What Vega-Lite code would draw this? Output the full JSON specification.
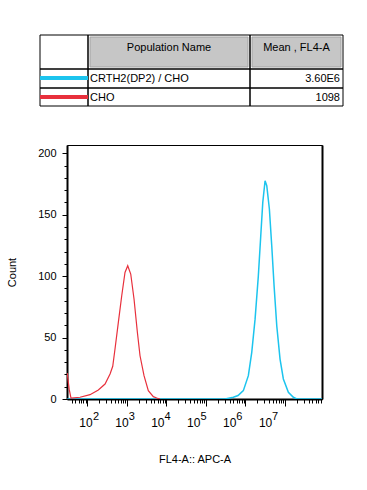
{
  "$schema": "https://vega.github.io/schema/vega-lite/v6.json",
  "padding": {"left": 6, "top": 34, "right": 0, "bottom": 0},
  "background": "white",
  "config": {"font": "Liberation Sans", "view": {"stroke": null}},
  "spacing": 39,
  "center": true,
  "bounds": "flush",
  "vconcat": [
    {
      "width": 309,
      "height": 71,
      "view": {"stroke": null},
      "data": {
        "values": [
          {"r0": 0, "r1": 1, "c0": 0, "c1": 1, "part": "blank"},
          {"r0": 0, "r1": 1, "c0": 1, "c1": 2, "mid": 1.5, "part": "header", "label": "Population Name"},
          {"r0": 0, "r1": 1, "c0": 2, "c1": 3, "mid": 2.5, "part": "header", "label": "Mean , FL4-A"},
          {"r0": 1, "r1": 2, "c0": 0, "c1": 1, "part": "swatch", "series": "CRTH2(DP2) / CHO"},
          {"r0": 1, "r1": 2, "c0": 1, "c1": 2, "part": "name", "label": "CRTH2(DP2) / CHO"},
          {"r0": 1, "r1": 2, "c0": 2, "c1": 3, "part": "value", "label": "3.60E6"},
          {"r0": 2, "r1": 3, "c0": 0, "c1": 1, "part": "swatch", "series": "CHO"},
          {"r0": 2, "r1": 3, "c0": 1, "c1": 2, "part": "name", "label": "CHO"},
          {"r0": 2, "r1": 3, "c0": 2, "c1": 3, "part": "value", "label": "1098"}
        ]
      },
      "encoding": {
        "x": {"field": "c0", "type": "quantitative", "scale": {"domain": [0, 1, 2, 3], "range": [0, 48, 210, 303]}, "axis": null},
        "y": {"field": "r0", "type": "quantitative", "scale": {"domain": [0, 1, 2, 3], "range": [0, 34, 53, 71]}, "axis": null}
      },
      "layer": [
        {
          "transform": [{"filter": "datum.part == 'header'"}],
          "mark": {"type": "rect", "fill": "#c6c6c6", "stroke": "#a2a2a2", "strokeWidth": 1, "xOffset": 2, "x2Offset": -2, "yOffset": 2, "y2Offset": -2},
          "encoding": {"x2": {"field": "c1"}, "y2": {"field": "r1"}}
        },
        {
          "mark": {"type": "rect", "filled": false, "stroke": "black", "strokeWidth": 1},
          "encoding": {"x2": {"field": "c1"}, "y2": {"field": "r1"}}
        },
        {
          "transform": [{"filter": "datum.part == 'swatch'"}],
          "mark": {"type": "rule", "strokeWidth": 4, "yOffset": 9},
          "encoding": {
            "x2": {"field": "c1"},
            "color": {"field": "series", "type": "nominal", "scale": {"domain": ["CRTH2(DP2) / CHO", "CHO"], "range": ["#1CC4EE", "#E8303C"]}, "legend": null}
          }
        },
        {
          "transform": [{"filter": "datum.part == 'header'"}],
          "mark": {"type": "text", "align": "center", "baseline": "middle", "dy": 12.5, "fontSize": 11, "color": "black"},
          "encoding": {"x": {"field": "mid", "type": "quantitative"}, "text": {"field": "label"}}
        },
        {
          "transform": [{"filter": "datum.part == 'name'"}],
          "mark": {"type": "text", "align": "left", "baseline": "middle", "dx": 2, "dy": 9.5, "fontSize": 11, "color": "black"},
          "encoding": {"text": {"field": "label"}}
        },
        {
          "transform": [{"filter": "datum.part == 'value'"}],
          "mark": {"type": "text", "align": "right", "baseline": "middle", "dx": -3, "dy": 9.5, "fontSize": 11, "color": "black"},
          "encoding": {"x": {"field": "c1", "type": "quantitative"}, "text": {"field": "label"}}
        }
      ]
    },
    {
      "width": 255,
      "height": 254,
      "view": {"stroke": "black", "strokeWidth": 1},
      "data": {
        "values": [
          {"series": "CRTH2(DP2) / CHO", "fl4": 31, "count": 0},
          {"series": "CRTH2(DP2) / CHO", "fl4": 306000, "count": 0},
          {"series": "CRTH2(DP2) / CHO", "fl4": 496600, "count": 1.4},
          {"series": "CRTH2(DP2) / CHO", "fl4": 653100, "count": 2.8},
          {"series": "CRTH2(DP2) / CHO", "fl4": 889200, "count": 6.8},
          {"series": "CRTH2(DP2) / CHO", "fl4": 1191000, "count": 19},
          {"series": "CRTH2(DP2) / CHO", "fl4": 1452000, "count": 38},
          {"series": "CRTH2(DP2) / CHO", "fl4": 1762000, "count": 65},
          {"series": "CRTH2(DP2) / CHO", "fl4": 2133000, "count": 100.3},
          {"series": "CRTH2(DP2) / CHO", "fl4": 2455000, "count": 132.9},
          {"series": "CRTH2(DP2) / CHO", "fl4": 2761000, "count": 160},
          {"series": "CRTH2(DP2) / CHO", "fl4": 3155000, "count": 177.6},
          {"series": "CRTH2(DP2) / CHO", "fl4": 3483000, "count": 173.6},
          {"series": "CRTH2(DP2) / CHO", "fl4": 4055000, "count": 154.6},
          {"series": "CRTH2(DP2) / CHO", "fl4": 4656000, "count": 124.7},
          {"series": "CRTH2(DP2) / CHO", "fl4": 5333000, "count": 92.2},
          {"series": "CRTH2(DP2) / CHO", "fl4": 6237000, "count": 59.6},
          {"series": "CRTH2(DP2) / CHO", "fl4": 7551000, "count": 32.5},
          {"series": "CRTH2(DP2) / CHO", "fl4": 9162000, "count": 16.3},
          {"series": "CRTH2(DP2) / CHO", "fl4": 12270000, "count": 5.5},
          {"series": "CRTH2(DP2) / CHO", "fl4": 16410000, "count": 1.4},
          {"series": "CRTH2(DP2) / CHO", "fl4": 20000000, "count": 0},
          {"series": "CRTH2(DP2) / CHO", "fl4": 87100000, "count": 0},
          {"series": "CHO", "fl4": 31, "count": 21.2},
          {"series": "CHO", "fl4": 34.7, "count": 8},
          {"series": "CHO", "fl4": 38.6, "count": 0.8},
          {"series": "CHO", "fl4": 65.3, "count": 1.4},
          {"series": "CHO", "fl4": 117, "count": 3.5},
          {"series": "CHO", "fl4": 190, "count": 7.3},
          {"series": "CHO", "fl4": 281, "count": 12.2},
          {"series": "CHO", "fl4": 376, "count": 20.3},
          {"series": "CHO", "fl4": 440, "count": 26.6},
          {"series": "CHO", "fl4": 502, "count": 40.7},
          {"series": "CHO", "fl4": 610, "count": 62.4},
          {"series": "CHO", "fl4": 743, "count": 84},
          {"series": "CHO", "fl4": 899, "count": 103},
          {"series": "CHO", "fl4": 1054, "count": 108.5},
          {"series": "CHO", "fl4": 1256, "count": 101.7},
          {"series": "CHO", "fl4": 1521, "count": 81.4},
          {"series": "CHO", "fl4": 1845, "count": 54.5},
          {"series": "CHO", "fl4": 2158, "count": 35.2},
          {"series": "CHO", "fl4": 2723, "count": 19},
          {"series": "CHO", "fl4": 3499, "count": 6.8},
          {"series": "CHO", "fl4": 4688, "count": 1.9},
          {"series": "CHO", "fl4": 5715, "count": 0.8},
          {"series": "CHO", "fl4": 6918, "count": 0}
        ]
      },
      "encoding": {
        "color": {"field": "series", "type": "nominal", "scale": {"domain": ["CRTH2(DP2) / CHO", "CHO"], "range": ["#1CC4EE", "#E8303C"]}, "legend": null}
      },
      "layer": [
        {
          "transform": [{"filter": "datum.series == 'CRTH2(DP2) / CHO'"}],
          "mark": {"type": "line", "strokeWidth": 1.5, "clip": true},
          "encoding": {
            "x": {
              "field": "fl4",
              "type": "quantitative",
              "scale": {"type": "log", "domain": [30.6, 87100000], "nice": false},
              "axis": {
                "orient": "bottom",
                "values": [40, 50, 60, 70, 80, 90, 100, 200, 300, 400, 500, 600, 700, 800, 900, 1000, 2000, 3000, 4000, 5000, 6000, 7000, 8000, 9000, 10000, 20000, 30000, 40000, 50000, 60000, 70000, 80000, 90000, 100000, 200000, 300000, 400000, 500000, 600000, 700000, 800000, 900000, 1000000, 2000000, 3000000, 4000000, 5000000, 6000000, 7000000, 8000000, 9000000, 10000000, 20000000, 30000000, 40000000, 50000000, 60000000, 70000000, 80000000],
                "labelExpr": "abs(log(datum.value)/LN10 - round(log(datum.value)/LN10)) < 0.001 ? '10' : ''",
                "labelOffset": {"expr": "-1.8 - 3.6*(log(datum.value)/LN10 - 2)"},
                "tickSize": {"condition": {"test": "abs(log(datum.value)/LN10 - round(log(datum.value)/LN10)) < 0.001", "value": 7}, "value": 4},
                "tickColor": "black",
                "tickWidth": 1,
                "domainColor": "black",
                "domainWidth": 2,
                "grid": false,
                "labelFontSize": 12,
                "labelColor": "black",
                "labelPadding": 11,
                "labelFlush": false,
                "labelOverlap": false,
                "labelBound": false,
                "title": "FL4-A:: APC-A",
                "titleFontSize": 11,
                "titleFontWeight": "normal",
                "titleColor": "black",
                "titlePadding": 25
              }
            },
            "y": {
              "field": "count",
              "type": "quantitative",
              "scale": {"domain": [0, 206.7], "nice": false},
              "axis": {
                "values": [0, 10, 20, 30, 40, 50, 60, 70, 80, 90, 100, 110, 120, 130, 140, 150, 160, 170, 180, 190, 200],
                "labelExpr": "datum.value % 50 == 0 ? datum.label : ''",
                "tickSize": {"condition": {"test": "datum.value % 50 == 0", "value": 5}, "value": 3},
                "tickColor": "black",
                "domainColor": "black",
                "domainWidth": 2,
                "grid": false,
                "labelFontSize": 11,
                "labelColor": "black",
                "labelPadding": 6,
                "labelOverlap": false,
                "labelFlush": false,
                "title": "Count",
                "titleFontSize": 11,
                "titleFontWeight": "normal",
                "titleColor": "black",
                "titlePadding": 20
              }
            }
          }
        },
        {
          "transform": [{"filter": "datum.series == 'CHO'"}],
          "mark": {"type": "line", "strokeWidth": 1.2, "clip": true},
          "encoding": {
            "x": {
              "field": "fl4",
              "type": "quantitative",
              "axis": {
                "orient": "top",
                "values": [100, 1000, 10000, 100000, 1000000, 10000000],
                "labelExpr": "round(log(datum.value)/LN10) + ''",
                "labelOffset": {"expr": "8.2 - 3.7*(log(datum.value)/LN10 - 2)"},
                "offset": -274,
                "domain": false,
                "ticks": false,
                "tickSize": 0,
                "grid": false,
                "labelFontSize": 11,
                "labelColor": "black",
                "labelPadding": 0,
                "labelBaseline": "alphabetic",
                "labelFlush": false,
                "labelOverlap": false,
                "labelBound": false,
                "title": null
              }
            },
            "y": {
              "field": "count",
              "type": "quantitative",
              "axis": {"orient": "right", "labels": false, "ticks": false, "grid": false, "title": null, "domainColor": "black", "domainWidth": 2}
            }
          }
        }
      ],
      "resolve": {"axis": {"x": "independent", "y": "independent"}}
    }
  ]
}
